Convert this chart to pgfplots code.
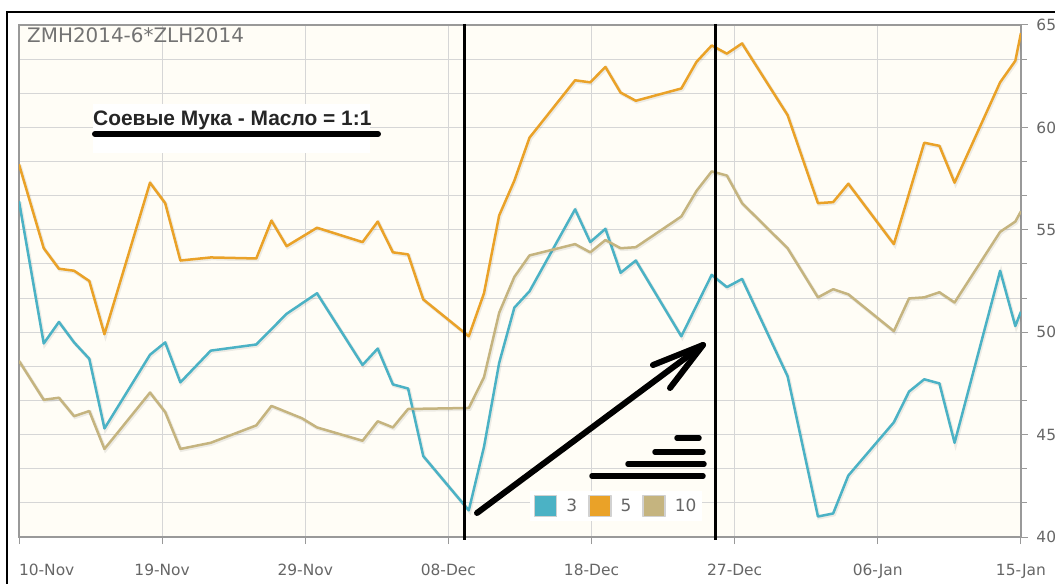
\documentclass[border=0pt]{standalone}
\usepackage{fontspec}
\setmainfont{DejaVu Sans}
\newfontfamily\lib{Liberation Sans}
\usepackage{pgfplots}
\usepackage{pgfplotstable}
\pgfplotsset{compat=1.18}
\definecolor{c3}{HTML}{4BB2C5}
\definecolor{c5}{HTML}{EAA228}
\definecolor{c10}{HTML}{C5B47F}
\definecolor{bgc}{HTML}{FFFDF6}
\definecolor{gridc}{HTML}{D6D6D6}
\definecolor{framec}{HTML}{999999}
\definecolor{labc}{HTML}{666666}

\pgfplotstableread{
x y
0 56.4
1.63 49.45
2.63 50.5
3.63 49.5
4.63 48.7
5.63 45.3
8.63 48.9
9.63 49.5
10.63 47.55
12.63 49.1
15.63 49.4
17.63 50.9
19.63 51.9
22.63 48.4
23.63 49.2
24.63 47.45
25.63 47.25
26.63 43.95
29.63 41.3
30.63 44.4
31.63 48.5
32.63 51.2
33.63 52.0
36.63 56.0
37.63 54.4
38.63 55.05
39.63 52.9
40.63 53.5
43.63 49.8
45.63 52.8
46.63 52.2
47.63 52.6
50.63 47.85
52.63 41.0
53.63 41.15
54.63 43.0
57.63 45.6
58.63 47.1
59.63 47.7
60.63 47.5
61.63 44.6
64.63 53.0
65.63 50.3
66 51.0
}\tA

\pgfplotstableread{
x y
0 58.2
1.63 54.1
2.63 53.1
3.63 53.0
4.63 52.5
5.63 49.9
8.63 57.3
9.63 56.3
10.63 53.5
12.63 53.65
15.63 53.6
16.63 55.45
17.63 54.2
19.63 55.1
22.63 54.4
23.63 55.4
24.63 53.9
25.63 53.8
26.63 51.6
29.63 49.8
30.63 51.9
31.63 55.7
32.63 57.4
33.63 59.5
36.63 62.3
37.63 62.2
38.63 62.95
39.63 61.7
40.63 61.3
43.63 61.9
44.63 63.2
45.63 64.0
46.63 63.6
47.63 64.1
50.63 60.6
52.63 56.3
53.63 56.35
54.63 57.25
57.63 54.3
59.63 59.25
60.63 59.1
61.63 57.3
64.63 62.2
65.63 63.25
66 64.6
}\tB

\pgfplotstableread{
x y
0 48.6
1.63 46.7
2.63 46.8
3.63 45.9
4.63 46.15
5.63 44.3
8.63 47.05
9.63 46.1
10.63 44.3
12.63 44.6
15.63 45.45
16.63 46.4
18.63 45.8
19.63 45.35
22.63 44.7
23.63 45.65
24.63 45.35
25.63 46.25
29.63 46.3
30.63 47.8
31.63 50.95
32.63 52.7
33.63 53.75
36.63 54.3
37.63 53.9
38.63 54.5
39.63 54.1
40.63 54.15
43.63 55.65
44.63 56.9
45.63 57.85
46.63 57.65
47.63 56.3
50.63 54.1
52.63 51.7
53.63 52.1
54.63 51.85
57.63 50.05
58.63 51.65
59.63 51.7
60.63 51.95
61.63 51.45
64.63 54.9
65.63 55.4
66 55.9
}\tC

\begin{document}
\begin{tikzpicture}
\useasboundingbox (-19bp,-47bp) rectangle (1036bp,537bp);
% outer border (left and top only visible)
\draw[black, line width=1.2bp] (-12bp,-47bp) -- (-12bp,525bp) -- (1036bp,525bp);
\begin{axis}[
  scale only axis, width=1002bp, height=512bp,
  xmin=0, xmax=66, ymin=40, ymax=65,
  xtick={0,9.4286,18.857,28.286,37.714,47.143,56.571,66},
  xticklabels={\makebox[0pt][l]{10-Nov},19-Nov,29-Nov,08-Dec,18-Dec,27-Dec,06-Jan,15-Jan},
  ytick={40,45,...,65}, minor y tick num=2,
  grid=both,
  major grid style={gridc, line width=1bp},
  minor grid style={gridc, line width=1bp},
  axis line style={framec, line width=2bp},
  tick style={framec, line width=1bp},
  tick align=outside, major tick length=7bp, minor tick length=6bp,
  xtick pos=bottom, ytick pos=right, yticklabel pos=right,
  /pgf/number format/assume math mode=true,
  ticklabel style={font=\fontsize{15.5}{15.5}\selectfont, text=labc},
  xticklabel style={yshift=-17bp},
  yticklabel style={xshift=5bp},
  axis background/.style={fill=bgc},
  title={ZMH2014-6*ZLH2014},
  title style={at={(0,1)}, anchor=north west, xshift=8bp, yshift=-8bp, inner sep=0pt,
    font=\fontsize{20}{20}\selectfont, text=black!55},
  legend style={at={(0.596,0.0605)}, anchor=center, draw=none, fill=white,
    font=\fontsize{17}{17}\selectfont, text=labc,
    inner xsep=4bp, inner ysep=4bp,
    /tikz/every odd column/.append style={column sep=7bp},
    /tikz/every even column/.append style={column sep=9bp}},
  legend columns=3,
]
\addplot[forget plot, black, opacity=0.07, line width=3.5bp, xshift=1bp, yshift=-1.2bp] table {\tA};
\addplot[c3, line width=2.5bp, line join=round,
  legend image code/.code={\draw[draw=black!18, line width=1.5bp, fill=c3] (0bp,-10.5bp) rectangle (22bp,10.5bp);}] table {\tA};
\addlegendentry{3}
\addplot[forget plot, black, opacity=0.07, line width=3.5bp, xshift=1bp, yshift=-1.2bp] table {\tB};
\addplot[c5, line width=2.5bp, line join=round,
  legend image code/.code={\draw[draw=black!18, line width=1.5bp, fill=c5] (0bp,-10.5bp) rectangle (22bp,10.5bp);}] table {\tB};
\addlegendentry{5}
\addplot[forget plot, black, opacity=0.07, line width=3.5bp, xshift=1bp, yshift=-1.2bp] table {\tC};
\addplot[c10, line width=2.5bp, line join=round,
  legend image code/.code={\draw[draw=black!18, line width=1.5bp, fill=c10] (0bp,-10.5bp) rectangle (22bp,10.5bp);}] table {\tC};
\addlegendentry{10}
\end{axis}
\begin{scope}[x=1bp, y=-1bp, shift={(-19bp,537bp)}]
  \fill[white] (93,104) rectangle (370,153);
  \node[anchor=base west, inner sep=0pt, font=\lib\bfseries\fontsize{21}{21}\selectfont, text=black!85]
    at (93,126) {Соевые Мука - Масло = 1:1};
  \draw[line width=6bp, line cap=round] (95,134) -- (378,134);
  \draw[line width=3bp] (464,24) -- (464,540);
  \draw[line width=3bp] (715,24) -- (715,540);
  \draw[line width=6bp, line cap=round, line join=round] (477,513) -- (703,345);
  \draw[line width=6bp, line cap=round, line join=round] (653,365) -- (703,345) -- (670,388);
  \draw[line width=5.5bp, line cap=round] (677,438) -- (699,438);
  \draw[line width=5.5bp, line cap=round] (655,452) -- (703,452);
  \draw[line width=5.5bp, line cap=round] (628,464) -- (704,464);
  \draw[line width=5.5bp, line cap=round] (592,476) -- (703,476);
\end{scope}
\end{tikzpicture}
\end{document}
